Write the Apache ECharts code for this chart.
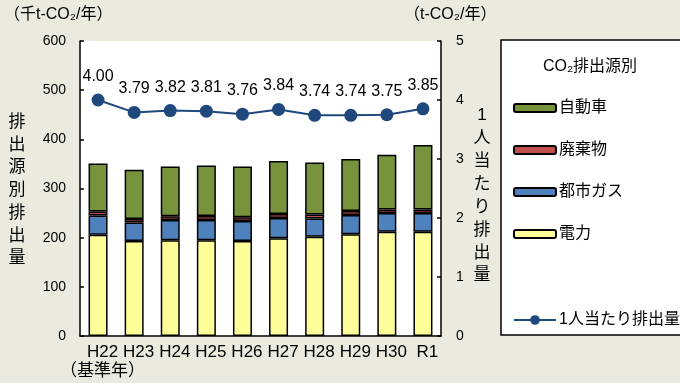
<!DOCTYPE html>
<html><head><meta charset="utf-8">
<script src="https://cdn.jsdelivr.net/npm/echarts@6/dist/echarts.min.js"></script>
<style>html,body{margin:0;padding:0;background:#ECE9DF;}#c{width:680px;height:383px;}</style>
</head><body><div id="c"></div>
<script>
const categories = ['H22\n（基準年）', 'H23', 'H24', 'H25', 'H26', 'H27', 'H28', 'H29', 'H30', 'R1'];
const electricity = [206, 193, 195, 195, 193, 199, 202, 207, 212, 212];
const cityGas = [39, 38, 41, 41, 41, 41, 37, 39, 38, 38];
const waste = [8, 7, 7.5, 8, 7.5, 8, 8, 8, 7.5, 7.5];
const cars = [98, 100, 101, 103, 103, 108, 106, 106, 111, 131];
const perCapita = [4.00, 3.79, 3.82, 3.81, 3.76, 3.84, 3.74, 3.74, 3.75, 3.85];
const leftTicks = [0, 600, 100];
const rightTicks = [0, 5, 1];

const FONT = '"Liberation Sans","Noto Sans CJK JP",sans-serif';
const chart = echarts.init(document.getElementById('c'));
const barBase = {type: 'bar', stack: 'total', barWidth: 19, yAxisIndex: 0};
const border = {borderColor: '#000', borderWidth: 1.5};
chart.setOption({
  backgroundColor: '#ECE9DF',
  textStyle: {fontFamily: FONT, color: '#000'},
  animation: false,
  grid: {left: 80, right: 239, top: 41, bottom: 47, show: true, backgroundColor: '#fff', borderWidth: 0},
  xAxis: {
    type: 'category', data: categories,
    axisLine: {lineStyle: {color: '#000', width: 1.5}},
    axisTick: {inside: true, length: 5, lineStyle: {color: '#000', width: 1.5}},
    axisLabel: {interval: 0, color: '#000', fontSize: 17, fontFamily: FONT, margin: 7, lineHeight: 19, padding: [0, 0, 0, 9]}
  },
  yAxis: [
    {type: 'value', min: leftTicks[0], max: leftTicks[1], interval: leftTicks[2],
     axisLine: {show: true, lineStyle: {color: '#000', width: 1.5}},
     axisTick: {show: true, inside: true, length: 4, lineStyle: {color: '#000', width: 1.5}},
     splitLine: {show: false},
     axisLabel: {color: '#000', fontSize: 14, margin: 14, fontFamily: FONT}},
    {type: 'value', min: rightTicks[0], max: rightTicks[1], interval: rightTicks[2],
     axisLine: {show: true, lineStyle: {color: '#000', width: 1.5}},
     axisTick: {show: true, inside: true, length: 4, lineStyle: {color: '#000', width: 1.5}},
     splitLine: {show: false},
     axisLabel: {color: '#000', fontSize: 14, margin: 15, fontFamily: FONT}}
  ],
  legend: [
    {orient: 'vertical', left: 508, top: 95, itemWidth: 42, itemHeight: 8, itemGap: 26,
     data: ['自動車', '廃棄物', '都市ガス', '電力'],
     textStyle: {fontSize: 16, lineHeight: 16, color: '#000', fontFamily: FONT, padding: [0, 0, 0, -2]}},
    {orient: 'vertical', left: 508, top: 307, itemWidth: 42, itemHeight: 12,
     data: ['1人当たり排出量'],
     textStyle: {fontSize: 16, lineHeight: 16, color: '#000', fontFamily: FONT, padding: [0, 0, 0, -2]}}
  ],
  graphic: [
    {type: 'rect', shape: {x: 501, y: 40, width: 185, height: 295}, style: {fill: '#fff', stroke: '#000', lineWidth: 1.5}, z: -1},
    {type: 'text', x: 590, y: 67, style: {text: 'CO₂排出源別', font: '16px ' + FONT, fill: '#000', textAlign: 'center', textVerticalAlign: 'middle'}},
    {type: 'text', x: 4, y: 15, style: {text: '（千t-CO₂/年）', font: '16px ' + FONT, fill: '#000', textVerticalAlign: 'middle'}},
    {type: 'text', x: 404, y: 15, style: {text: '（t-CO₂/年）', font: '16px ' + FONT, fill: '#000', textVerticalAlign: 'middle'}},
    {type: 'text', x: 17, y: 111, style: {text: '排出源別排出量'.split('').join('\n'), font: '17px ' + FONT, lineHeight: 22.7, fill: '#000', textAlign: 'center', textVerticalAlign: 'top'}},
    {type: 'text', x: 482, y: 104, style: {text: '1人当たり排出量'.split('').join('\n'), font: '17px ' + FONT, lineHeight: 22.9, fill: '#000', textAlign: 'center', textVerticalAlign: 'top'}}
  ],
  series: [
    Object.assign({}, barBase, {name: '電力', data: electricity, itemStyle: Object.assign({color: '#FFFF99'}, border)}),
    Object.assign({}, barBase, {name: '都市ガス', data: cityGas, itemStyle: Object.assign({color: '#4F81BD'}, border)}),
    Object.assign({}, barBase, {name: '廃棄物', data: waste, itemStyle: Object.assign({color: '#C0504D'}, border)}),
    Object.assign({}, barBase, {name: '自動車', data: cars, itemStyle: Object.assign({color: '#77933C'}, border)}),
    {type: 'line', name: '1人当たり排出量', yAxisIndex: 1, data: perCapita,
     symbol: 'circle', symbolSize: 13,
     lineStyle: {color: '#1F497D', width: 2},
     itemStyle: {color: '#1F497D'},
     label: {show: true, position: 'top', distance: 9, fontSize: 16, color: '#000', fontFamily: FONT,
             formatter: p => p.value.toFixed(2)}}
  ]
});
</script></body></html>
